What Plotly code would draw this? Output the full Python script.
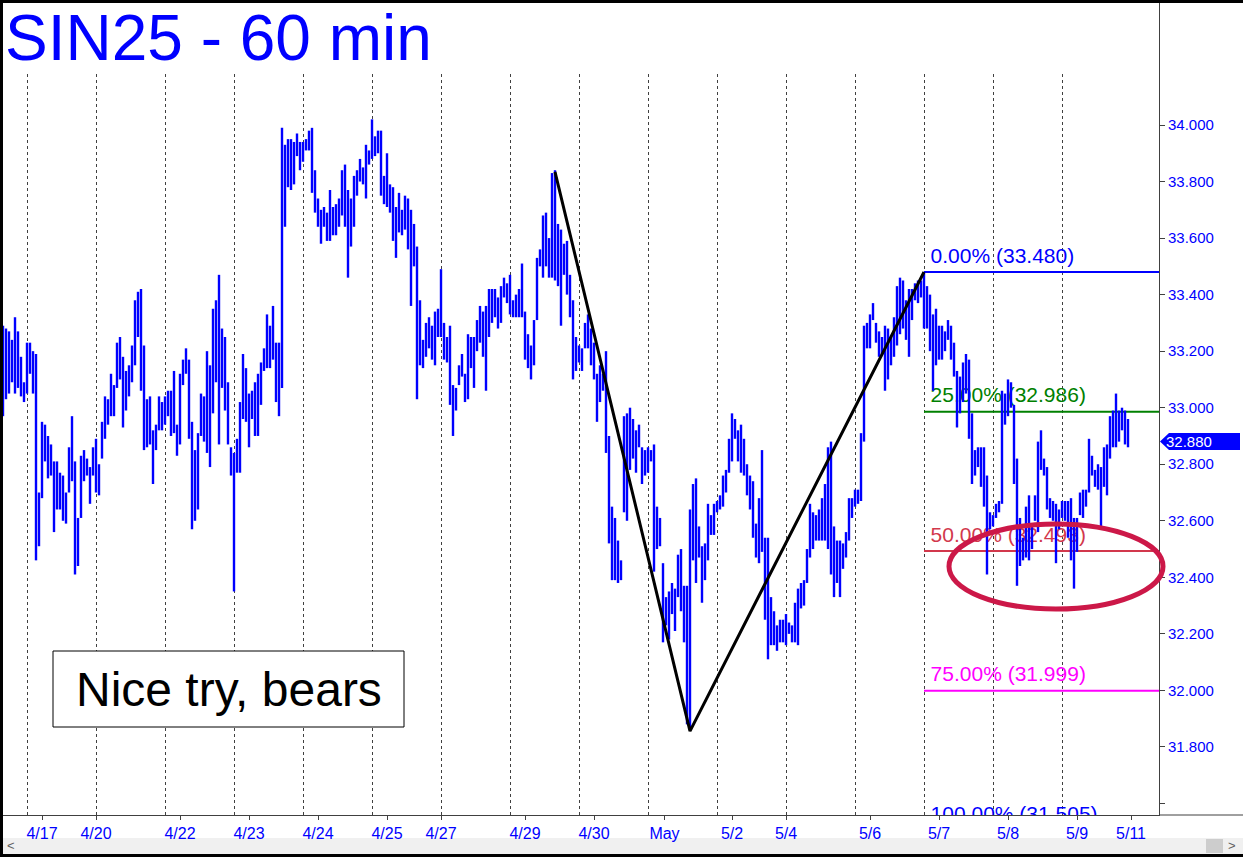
import plotly.graph_objects as go

# ---------------- data ----------------
high = [
    33.29, 33.28, 33.27, 33.24, 33.32, 33.27, 33.18, 33.09, 33.23, 33.23,
    33.20, 33.19, 32.70, 32.95, 32.94, 32.90, 32.87, 32.81, 32.81, 32.77,
    32.76, 32.70, 32.86, 32.97, 32.81, 32.61, 32.83, 32.85, 32.82, 32.79,
    32.86, 32.89, 32.80, 32.95, 33.04, 33.03, 33.12, 33.08, 33.23, 33.25,
    33.18, 33.13, 33.15, 33.22, 33.38, 33.41, 33.42, 33.22, 33.03, 33.04,
    32.92, 32.94, 33.04, 33.02, 33.04, 33.06, 33.06, 33.13, 32.94, 33.12,
    33.17, 33.21, 33.17, 32.95, 32.85, 32.91, 33.05, 33.04, 33.20, 33.15,
    33.35, 33.38, 33.47, 33.28, 33.25, 33.09, 32.86, 32.84, 32.89, 33.02,
    33.19, 33.14, 33.05, 33.06, 33.09, 33.12, 33.16, 33.21, 33.33, 33.29,
    33.36, 33.23, 33.23, 33.99,
    33.93, 33.95, 33.95, 33.94, 33.97, 33.94,
    33.94, 33.95, 33.98, 33.99, 33.84, 33.74, 33.70, 33.71, 33.69, 33.77,
    33.71, 33.72, 33.74, 33.84, 33.86, 33.77, 33.74, 33.82, 33.84, 33.88,
    33.85, 33.93, 33.91, 34.02, 33.96, 33.98, 33.98, 33.82, 33.90, 33.79,
    33.78, 33.71, 33.76, 33.70, 33.75, 33.74, 33.70, 33.65, 33.57, 33.38,
    33.24, 33.30, 33.32, 33.29, 33.34, 33.35, 33.49, 33.30, 33.25, 33.29,
    33.08, 33.07, 33.15, 33.19, 33.12, 33.26, 33.25, 33.25, 33.31, 33.36,
    33.34, 33.36, 33.42, 33.42, 33.42, 33.39, 33.43, 33.46, 33.44, 33.47,
    33.38, 33.40, 33.42, 33.51, 33.34, 33.26, 33.22, 33.31, 33.53, 33.56,
    33.68, 33.69, 33.60, 33.83, 33.84, 33.65, 33.63, 33.58, 33.59, 33.47,
    33.38, 33.25, 33.22, 33.21, 33.30, 33.33, 33.28, 33.23, 33.12, 33.15,
    33.12, 33.20, 32.90, 32.65, 32.61, 32.53, 32.46, 32.97, 32.98, 33.00,
    32.96, 32.92, 32.94, 32.86, 32.85, 32.86, 32.85, 32.87, 32.65, 32.61,
    32.45, 32.33, 32.35, 32.38, 32.36, 32.48, 32.50, 32.37, 32.37, 32.64,
    32.73, 32.75, 32.58, 32.51, 32.52, 32.66, 32.62, 32.66, 32.67, 32.69,
    32.76, 32.78, 32.89, 32.98, 32.96, 32.92, 32.94, 32.89, 32.80, 32.76,
    32.74, 32.59, 32.68, 32.85, 32.54, 32.54, 32.33, 32.28, 32.23, 32.25,
    32.25, 32.27, 32.24, 32.23, 32.31, 32.36, 32.38, 32.39, 32.50, 32.66,
    32.63, 32.62, 32.64, 32.68, 32.73, 32.86, 32.88, 32.58, 32.53, 32.53,
    32.52, 32.56, 32.68, 32.68, 32.71, 32.71, 32.91, 33.29, 33.30, 33.33,
    33.37, 33.30, 33.27, 33.25, 33.29, 33.28, 33.25, 33.32, 33.43, 33.46,
    33.45, 33.38, 33.42, 33.42, 33.44, 33.45, 33.45, 33.48, 33.43, 33.40,
    33.33, 33.35, 33.29, 33.29, 33.27, 33.31, 33.29, 33.23, 33.13, 33.11,
    33.16, 33.19, 33.17, 32.98, 32.85, 32.86, 32.86, 32.86, 32.76, 32.63,
    32.62, 32.66, 32.67, 33.06, 33.05, 33.10, 33.09, 33.01, 32.82, 32.61,
    32.54, 32.65, 32.69, 32.58, 32.69, 32.88, 32.92, 32.82, 32.79, 32.68,
    32.67, 32.66, 32.64, 32.67, 32.67, 32.67, 32.68, 32.61, 32.61, 32.70,
    32.71, 32.71, 32.89, 32.83, 32.78, 32.80, 32.79, 32.86, 32.87, 32.97,
    32.99, 33.05, 32.99, 33.00, 32.99, 32.96,
]

low = [
    32.97, 33.03, 33.05, 33.09, 33.05, 33.07, 33.04, 33.02, 33.05, 33.12,
    33.05, 32.46, 32.51, 32.68, 32.81, 32.75, 32.76, 32.56, 32.64, 32.64,
    32.60, 32.59, 32.70, 32.74, 32.41, 32.44, 32.61, 32.74, 32.76, 32.66,
    32.76, 32.70, 32.69, 32.82, 32.89, 32.94, 32.97, 32.97, 33.07, 33.10,
    32.93, 32.99, 33.04, 33.09, 33.15, 33.25, 33.06, 32.85, 32.86, 32.87,
    32.73, 32.85, 32.92, 32.92, 32.94, 32.97, 32.90, 32.91, 32.83, 32.87,
    33.08, 33.12, 32.89, 32.57, 32.60, 32.64, 32.90, 32.88, 32.84, 32.79,
    32.98, 33.09, 32.87, 33.07, 32.99, 32.87, 32.76, 32.35, 32.77, 32.77,
    32.96, 32.95, 32.86, 32.96, 32.90, 32.90, 33.01, 33.13, 33.14, 33.14,
    33.17, 33.02, 32.97, 33.07,
    33.64, 33.78, 33.77, 33.79, 33.89, 33.84,
    33.87, 33.91, 33.91, 33.76, 33.69, 33.64, 33.58, 33.64, 33.59, 33.59,
    33.61, 33.61, 33.64, 33.68, 33.64, 33.46, 33.57, 33.64, 33.75, 33.80,
    33.79, 33.74, 33.86, 33.88, 33.89, 33.90, 33.75, 33.72, 33.71, 33.69,
    33.59, 33.53, 33.62, 33.61, 33.63, 33.56, 33.36, 33.50, 33.03, 33.15,
    33.14, 33.18, 33.21, 33.17, 33.15, 33.25, 33.25, 33.17, 33.16, 33.01,
    32.90, 32.99, 33.08, 33.11, 33.02, 33.03, 33.14, 33.07, 33.20, 33.23,
    33.18, 33.06, 33.25, 33.30, 33.32, 33.28, 33.30, 33.39, 33.37, 33.33,
    33.32, 33.32, 33.32, 33.32, 33.17, 33.14, 33.10, 33.15, 33.31, 33.50,
    33.46, 33.50, 33.46, 33.46, 33.45, 33.43, 33.29, 33.47, 33.40, 33.32,
    33.10, 33.13, 33.16, 33.13, 33.21, 33.21, 33.15, 33.10, 32.95, 33.02,
    33.06, 32.84, 32.52, 32.39, 32.39, 32.38, 32.39, 32.63, 32.60, 32.78,
    32.82, 32.77, 32.86, 32.73, 32.76, 32.77, 32.81, 32.42, 32.50, 32.51,
    32.17, 32.23, 32.18, 32.27, 32.21, 32.33, 32.28, 32.17, 31.88, 31.86,
    32.46, 32.38, 32.47, 32.31, 32.39, 32.46, 32.55, 32.55, 32.63, 32.64,
    32.65, 32.70, 32.77, 32.81, 32.89, 32.81, 32.77, 32.76, 32.69, 32.64,
    32.54, 32.47, 32.45, 32.49, 32.25, 32.11, 32.16, 32.16, 32.14, 32.17,
    32.17, 32.16, 32.20, 32.17, 32.17, 32.16, 32.29, 32.30, 32.38, 32.47,
    32.50, 32.53, 32.53, 32.53, 32.53, 32.50, 32.41, 32.33, 32.38, 32.33,
    32.43, 32.47, 32.53, 32.61, 32.65, 32.66, 32.67, 32.88, 33.21, 33.21,
    33.31, 33.23, 33.18, 33.19, 33.06, 33.10, 33.15, 33.18, 33.22, 33.26,
    33.28, 33.24, 33.18, 33.31, 33.38, 33.37, 33.39, 33.28, 33.28, 33.20,
    33.06, 33.15, 33.17, 33.17, 33.20, 33.24, 33.17, 33.11, 32.93, 32.98,
    33.02, 33.05, 32.89, 32.73, 32.76, 32.79, 32.72, 32.65, 32.41, 32.57,
    32.58, 32.61, 32.63, 32.66, 32.94, 32.97, 33.00, 32.73, 32.37, 32.44,
    32.46, 32.47, 32.46, 32.50, 32.60, 32.56, 32.78, 32.76, 32.64, 32.61,
    32.60, 32.45, 32.57, 32.61, 32.60, 32.54, 32.46, 32.36, 32.49, 32.62,
    32.61, 32.65, 32.70, 32.76, 32.72, 32.71, 32.58, 32.72, 32.69, 32.82,
    32.86, 32.86, 32.88, 32.92, 32.87, 32.86,
]

last_close = 32.880

tick_bars = [13, 31, 59, 82, 105, 128, 146, 174, 197, 220.5, 243, 261, 289, 312, 335, 358, 376]
tick_labels = ["4/17", "4/20", "4/22", "4/23", "4/24", "4/25", "4/27", "4/29", "4/30",
               "May", "5/2", "5/4", "5/6", "5/7", "5/8", "5/9", "5/11"]
session_starts = [8, 31, 54, 77, 100, 123, 146, 169, 192, 215, 238, 261, 284, 307, 330, 353]

price_ticks = [31.6, 31.8, 32.0, 32.2, 32.4, 32.6, 32.8, 33.0, 33.2, 33.4, 33.6, 33.8, 34.0]
price_tick_text = ["", "31.800", "32.000", "32.200", "32.400", "32.600", "32.800",
                   "33.000", "33.200", "33.400", "33.600", "33.800", "34.000"]

zz_bars = [184, 229, 307]
zz_prices = [33.834, 31.856, 33.480]

fib_pcts = ["0.00%", "25.00%", "50.00%", "75.00%", "100.00%"]
fib_levels = [33.480, 32.986, 32.493, 31.999, 31.505]
fib_colors = ["#0000FF", "#008000", "#D2384C", "#FF00FF", "#0000FF"]
fib_start_bar = 307

title_text = "SIN25 - 60 min"
note_text = "Nice try, bears"

# ---------------- geometry ----------------
W, H = 1243, 857
PLOT_R = 1159          # px, right edge of plot area
PLOT_B = 815           # px, bottom of plot area
PX_PER_BAR = 3.0
PX_PER_UNIT = 282.7
Y_TOP = 34.0 + 125 / PX_PER_UNIT
Y_BOT = Y_TOP - PLOT_B / PX_PER_UNIT
X_MIN = -1
X_MAX = X_MIN + PLOT_R / PX_PER_BAR

FONT = "Arial, Liberation Sans, sans-serif"
BLUE = "#0000FF"


def px_x(p):
    return p / PLOT_R


def px_y(p):
    return (PLOT_B - p) / PLOT_B


fig = go.Figure()

# fib lines (under bars)
for lvl, col in zip(fib_levels, fib_colors):
    fig.add_trace(go.Scatter(x=[fib_start_bar, X_MAX + 1], y=[lvl, lvl], mode="lines",
                             line=dict(color=col, width=2), hoverinfo="skip", showlegend=False))

# fib labels (clipped to plot area)
label_lift = 4 / PX_PER_UNIT
for pct, lvl, col in zip(fib_pcts, fib_levels, fib_colors):
    fig.add_trace(go.Scatter(x=[fib_start_bar + 2.2], y=[lvl + label_lift], mode="text",
                             text=[f"{pct} ({lvl:.3f})"], textposition="top right",
                             textfont=dict(family=FONT, size=21, color=col),
                             cliponaxis=True, hoverinfo="skip", showlegend=False))

# price bars (high-low)
bx, by = [], []
for i, (h, l) in enumerate(zip(high, low)):
    bx += [i, i, None]
    by += [l, h, None]
fig.add_trace(go.Scatter(x=bx, y=by, mode="lines", line=dict(color=BLUE, width=2.4),
                         hoverinfo="skip", showlegend=False))

# zigzag
fig.add_trace(go.Scatter(x=zz_bars, y=zz_prices, mode="lines",
                         line=dict(color="black", width=3), hoverinfo="skip", showlegend=False))

shapes = []
# session dividers
for s in session_starts:
    xv = s + 0.5 / PX_PER_BAR
    shapes.append(dict(type="line", xref="x", yref="paper", x0=xv, x1=xv, y0=0, y1=px_y(73),
                       line=dict(color="#404040", width=1, dash="3px,3px"), layer="below"))

# ellipse
shapes.append(dict(type="circle", xref="paper", yref="paper",
                   x0=px_x(949), x1=px_x(1163), y0=px_y(609), y1=px_y(524),
                   line=dict(color="#CC1848", width=5), layer="above"))

# note box
shapes.append(dict(type="rect", xref="paper", yref="paper",
                   x0=px_x(53), x1=px_x(404), y0=px_y(727), y1=px_y(651),
                   line=dict(color="black", width=1), fillcolor="white", layer="above"))

# x axis line through the right panel
shapes.append(dict(type="line", xref="paper", yref="paper", x0=1, x1=px_x(W), y0=0, y1=0,
                   line=dict(color="#404040", width=1)))

# price tag
half = 8.5 / PX_PER_UNIT
tag_path = (f"M {px_x(1160)} {last_close} L {px_x(1169)} {last_close + half} "
            f"L {px_x(1240)} {last_close + half} L {px_x(1240)} {last_close - half} "
            f"L {px_x(1169)} {last_close - half} Z")
shapes.append(dict(type="path", xref="paper", yref="y", path=tag_path,
                   fillcolor=BLUE, line=dict(width=0), layer="above"))

# scroll bar (below the axis labels)
shapes.append(dict(type="rect", xref="paper", yref="paper", x0=0, x1=px_x(W),
                   y0=px_y(854), y1=px_y(838), fillcolor="#F0F0F0", line=dict(width=0),
                   layer="below"))
shapes.append(dict(type="rect", xref="paper", yref="paper", x0=px_x(1206), x1=px_x(1223),
                   y0=px_y(853), y1=px_y(839), fillcolor="#CDCDCD", line=dict(width=0),
                   layer="below"))

# frame borders
shapes.append(dict(type="rect", xref="paper", yref="paper", x0=0, x1=px_x(3),
                   y0=px_y(H), y1=px_y(0), fillcolor="black", line=dict(width=0), layer="above"))
shapes.append(dict(type="rect", xref="paper", yref="paper", x0=0, x1=px_x(W),
                   y0=px_y(3), y1=px_y(0), fillcolor="black", line=dict(width=0), layer="above"))
shapes.append(dict(type="rect", xref="paper", yref="paper", x0=0, x1=px_x(W),
                   y0=px_y(H), y1=px_y(854), fillcolor="black", line=dict(width=0), layer="above"))

annotations = [
    dict(xref="paper", yref="paper", x=px_x(3), y=px_y(38), xanchor="left", yanchor="middle",
         text=title_text, showarrow=False, font=dict(family=FONT, size=64, color=BLUE)),
    dict(xref="paper", yref="paper", x=px_x(229), y=px_y(689), xanchor="center",
         yanchor="middle", text=note_text, showarrow=False,
         font=dict(family=FONT, size=48, color="black")),
    dict(xref="paper", yref="y", x=px_x(1164), y=last_close, xanchor="left", yanchor="middle",
         text=f"{last_close:.3f}", showarrow=False, font=dict(family=FONT, size=15, color="white")),
    dict(xref="paper", yref="paper", x=px_x(11), y=px_y(845), xanchor="center", yanchor="middle",
         text="&lt;", showarrow=False, font=dict(family=FONT, size=13, color="#606060")),
    dict(xref="paper", yref="paper", x=px_x(1232), y=px_y(845), xanchor="center", yanchor="middle",
         text="&gt;", showarrow=False, font=dict(family=FONT, size=13, color="#606060")),
]

fig.update_layout(
    width=W, height=H,
    margin=dict(l=0, r=W - PLOT_R, t=0, b=H - PLOT_B, pad=0),
    paper_bgcolor="white", plot_bgcolor="white",
    showlegend=False,
    shapes=shapes, annotations=annotations,
    xaxis=dict(range=[X_MIN, X_MAX], tickvals=tick_bars, ticktext=tick_labels,
               ticks="outside", ticklen=4, tickcolor="#404040", showgrid=False, zeroline=False,
               showline=True, linecolor="#404040", linewidth=1,
               tickfont=dict(family=FONT, size=16, color=BLUE), fixedrange=True),
    yaxis=dict(range=[Y_BOT, Y_TOP], side="right", tickvals=price_ticks, ticktext=price_tick_text,
               ticks="outside", ticklen=5, tickcolor="#404040", showgrid=False, zeroline=False,
               showline=True, linecolor="#404040", linewidth=1,
               tickfont=dict(family=FONT, size=15, color=BLUE), fixedrange=True),
)

fig.write_html("out.html", config={"displayModeBar": False},
               post_script="document.body.style.margin='0';document.body.style.overflow='hidden';")
